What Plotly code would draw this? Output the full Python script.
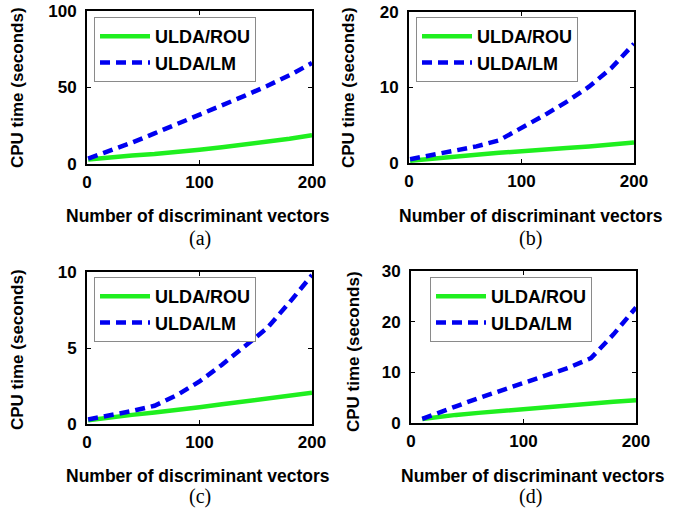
import plotly.graph_objects as go

# ---------------- data ----------------
x_a = [1, 20, 40, 60, 80, 100, 120, 140, 160, 180, 200]
rou_a = [3.0, 4.5, 5.5, 6.5, 7.7, 9.3, 11.0, 12.7, 14.5, 16.5, 18.8]
lm_a = [3.5, 8.5, 14.0, 20.0, 26.0, 32.0, 38.0, 44.5, 51.0, 58.0, 66.0]

x_b = [1, 20, 40, 60, 80, 100, 120, 140, 160, 180, 200]
rou_b = [0.3, 0.6, 0.85, 1.1, 1.35, 1.6, 1.8, 2.0, 2.2, 2.45, 2.7]
lm_b = [0.5, 1.0, 1.6, 2.2, 3.0, 4.6, 6.3, 8.1, 10.1, 12.6, 15.8]

x_c = [1, 20, 40, 60, 80, 100, 120, 140, 160, 180, 200]
rou_c = [0.25, 0.45, 0.6, 0.75, 0.9, 1.1, 1.3, 1.5, 1.7, 1.9, 2.05]
lm_c = [0.3, 0.55, 0.85, 1.2, 1.9, 2.8, 3.9, 5.1, 6.3, 8.0, 9.8]

x_d = [10, 20, 40, 60, 80, 100, 120, 140, 160, 180, 200]
rou_d = [0.8, 1.1, 1.6, 2.0, 2.4, 2.8, 3.2, 3.5, 3.9, 4.2, 4.5]
lm_d = [0.8, 1.7, 3.3, 4.9, 6.4, 8.0, 9.4, 10.9, 12.8, 17.5, 22.8]

x_ticks = [0, 100, 200]
y_ticks = [[0, 50, 100], [0, 10, 20], [0, 5, 10], [0, 10, 20, 30]]
y_ranges = [[0, 100], [0, 20], [0, 10], [0, 30]]
panel_labels = ["(a)", "(b)", "(c)", "(d)"]
series_names = ["ULDA/ROU", "ULDA/LM"]
x_title = "Number of discriminant vectors"
y_title = "CPU time (seconds)"

# ---------------- layout geometry (pixels) ----------------
W, H = 678, 514
# plot boxes: (left, right, top, bottom)
boxes = [(87, 312, 11, 164), (409, 634, 12, 163), (87, 312, 272, 424), (411, 636, 271, 423)]
legend_pos = [(94, 17), (416, 17), (94, 277), (430, 277)]
xtitle_pos = [(198, 216), (531, 216), (198, 476), (533, 476)]
ytitle_pos = [(17, 88), (348, 88), (17, 350), (353, 352)]
label_pos = [(200, 238), (530, 238), (200, 496), (530, 496)]

GREEN = "#1fef1f"
BLUE = "#0000f0"
FONT = "Liberation Sans"

data_sets = [(x_a, rou_a, lm_a), (x_b, rou_b, lm_b), (x_c, rou_c, lm_c), (x_d, rou_d, lm_d)]

fig = go.Figure()
for i, (xs, rou, lm) in enumerate(data_sets):
    sfx = "" if i == 0 else str(i + 1)
    leg = "legend" + sfx
    fig.add_trace(go.Scatter(x=xs, y=rou, mode="lines", name=series_names[0],
                             line=dict(color=GREEN, width=4.5),
                             xaxis="x" + sfx, yaxis="y" + sfx, legend=leg))
    fig.add_trace(go.Scatter(x=xs, y=lm, mode="lines", name=series_names[1],
                             line=dict(color=BLUE, width=4.5, dash="10px,6px"),
                             xaxis="x" + sfx, yaxis="y" + sfx, legend=leg))

layout = dict(width=W, height=H, template="none",
              margin=dict(l=0, r=0, t=0, b=0, autoexpand=False),
              paper_bgcolor="white", plot_bgcolor="white", showlegend=True)

tickfont = dict(family=FONT, size=17, color="black", weight="bold")
annotations = []
for i, (l, r, t, b) in enumerate(boxes):
    sfx = "" if i == 0 else str(i + 1)
    common = dict(showline=True, linecolor="black", linewidth=2, mirror="ticks",
                  ticks="inside", ticklen=4, tickwidth=1, tickcolor="black",
                  showgrid=False, zeroline=False, tickfont=tickfont, fixedrange=True,
                  automargin=False)
    layout["xaxis" + sfx] = dict(domain=[l / W, r / W], range=[0, 200], tickvals=x_ticks,
                                 anchor="y" + sfx, ticklabelstandoff=2, **common)
    layout["yaxis" + sfx] = dict(domain=[1 - b / H, 1 - t / H], range=y_ranges[i],
                                 tickvals=y_ticks[i], anchor="x" + sfx,
                                 ticklabelstandoff=5, **common)
    lx, ly = legend_pos[i]
    layout["legend" + sfx] = dict(x=lx / W, y=1 - ly / H, xanchor="left", yanchor="top",
                                  xref="paper", yref="paper",
                                  bgcolor="white", bordercolor="#8a8a8a", borderwidth=1,
                                  font=dict(family=FONT, size=18, color="black", weight="bold"),
                                  itemwidth=50, tracegroupgap=0)
    tx, ty = xtitle_pos[i]
    annotations.append(dict(x=tx / W, y=1 - ty / H, xref="paper", yref="paper",
                            text=x_title, showarrow=False, xanchor="center", yanchor="middle",
                            font=dict(family=FONT, size=17.5, color="black", weight="bold")))
    yx, yy = ytitle_pos[i]
    annotations.append(dict(x=yx / W, y=1 - yy / H, xref="paper", yref="paper",
                            text=y_title, showarrow=False, textangle=-90,
                            xanchor="center", yanchor="middle",
                            font=dict(family=FONT, size=17, color="black", weight="bold")))
    px, py = label_pos[i]
    annotations.append(dict(x=px / W, y=1 - py / H, xref="paper", yref="paper",
                            text=panel_labels[i], showarrow=False,
                            xanchor="center", yanchor="middle",
                            font=dict(family="Liberation Serif", size=20, color="black")))
layout["annotations"] = annotations
fig.update_layout(**layout)
fig.write_html("out.html",
               config={"displayModeBar": False},
               post_script="document.body.style.margin='0';document.body.style.overflow='hidden';")
